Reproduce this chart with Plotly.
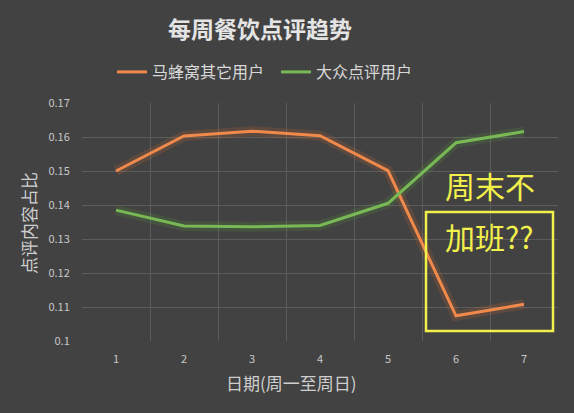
import plotly.graph_objects as go

days = [1, 2, 3, 4, 5, 6, 7]
day_labels = ["1", "2", "3", "4", "5", "6", "7"]
mafengwo = [0.150, 0.1603, 0.1617, 0.1604, 0.1501, 0.1074, 0.1108]
dianping = [0.1385, 0.1338, 0.1336, 0.1340, 0.1405, 0.1583, 0.1616]
series_names = ["马蜂窝其它用户", "大众点评用户"]
y_ticks = [0.1, 0.11, 0.12, 0.13, 0.14, 0.15, 0.16, 0.17]
y_tick_text = ["0.1", "0.11", "0.12", "0.13", "0.14", "0.15", "0.16", "0.17"]

BG = "#424242"
ORANGE = "#f08a4c"
GREEN = "#78b956"
FONT = "Noto Sans CJK SC"

fig = go.Figure()
# glow layers
for vals, col in [(mafengwo, "#e8702a"), (dianping, "#5fa83a")]:
    fig.add_trace(go.Scatter(x=days, y=vals, mode="lines",
                             line=dict(color=col, width=10), opacity=0.16,
                             showlegend=False, hoverinfo="skip"))
fig.add_trace(go.Scatter(x=days, y=mafengwo, mode="lines", name=series_names[0],
                         line=dict(color=ORANGE, width=3)))
fig.add_trace(go.Scatter(x=days, y=dianping, mode="lines", name=series_names[1],
                         line=dict(color=GREEN, width=3)))

W, H = 574, 413
L, R, T, B = 82, 16, 103, 72

fig.update_layout(
    width=W, height=H,
    paper_bgcolor=BG, plot_bgcolor=BG,
    margin=dict(l=L, r=R, t=T, b=B, autoexpand=False),
    font=dict(family=FONT, color="#d0d0d0"),
    showlegend=True,
    legend=dict(orientation="h", x=112 / W, xref="container", xanchor="left",
                y=1 - 72 / H, yref="container", yanchor="middle",
                font=dict(size=16, color="#d8d8d8"),
                itemwidth=30, entrywidth=119, bgcolor="rgba(0,0,0,0)",
                traceorder="normal"),
    xaxis=dict(range=[0.5, 7.5], tickvals=days, ticktext=day_labels,
               showgrid=False, zeroline=False, showline=False,
               ticks="outside", ticklen=8, tickcolor=BG,
               tickfont=dict(size=11, color="#c8c8c8"),
               minor=dict(tickvals=[0.5, 1.5, 2.5, 3.5, 4.5, 5.5, 6.5, 7.5],
                          showgrid=True, gridcolor="#5c5c5c", gridwidth=1, ticks="")),
    yaxis=dict(range=[0.1, 0.17], tickvals=y_ticks, ticktext=y_tick_text,
               showgrid=True, gridcolor="#5c5c5c", gridwidth=1,
               zeroline=False, showline=False,
               ticks="outside", ticklen=9, tickcolor=BG,
               tickfont=dict(size=11, color="#c8c8c8")),
    annotations=[
        dict(text="每周餐饮点评趋势", x=260, y=28, showarrow=False,
             font=dict(size=23, color="#e4e4e4", family=FONT, weight="bold")),
        dict(text="点评内容占比", x=28, y=223, showarrow=False, textangle=-90,
             font=dict(size=17, color="#cfcfcf", family=FONT)),
        dict(text="日期(周一至周日)", x=291, y=382, showarrow=False,
             font=dict(size=17, color="#cfcfcf", family=FONT)),
        dict(text="周末不", x=490, y=185, showarrow=False,
             font=dict(size=30, color="#f2f04a", family=FONT)),
        dict(text="加班??", x=489, y=236, showarrow=False,
             font=dict(size=30, color="#f2f04a", family=FONT)),
    ],
    shapes=[
        dict(type="rect", x0=426, x1=553, y0=212, y1=331,
             line=dict(color="#f2f04a", width=2.5), fillcolor="rgba(0,0,0,0)"),
    ],
)

# convert pixel positions (from top-left of the page) into paper coordinates
pw, ph = W - L - R, H - T - B
def px(x):
    return (x - L) / pw
def py(y):
    return (H - B - y) / ph
for a in fig.layout.annotations:
    a.xref = "paper"; a.yref = "paper"
    a.x = px(a.x); a.y = py(a.y)
    a.xanchor = "center"; a.yanchor = "middle"
for s in fig.layout.shapes:
    s.xref = "paper"; s.yref = "paper"
    s.x0, s.x1 = px(s.x0), px(s.x1)
    s.y0, s.y1 = py(s.y0), py(s.y1)

fig.write_html("out.html", config={"displayModeBar": False},
               post_script="document.body.style.margin='0';document.body.style.overflow='hidden';")
